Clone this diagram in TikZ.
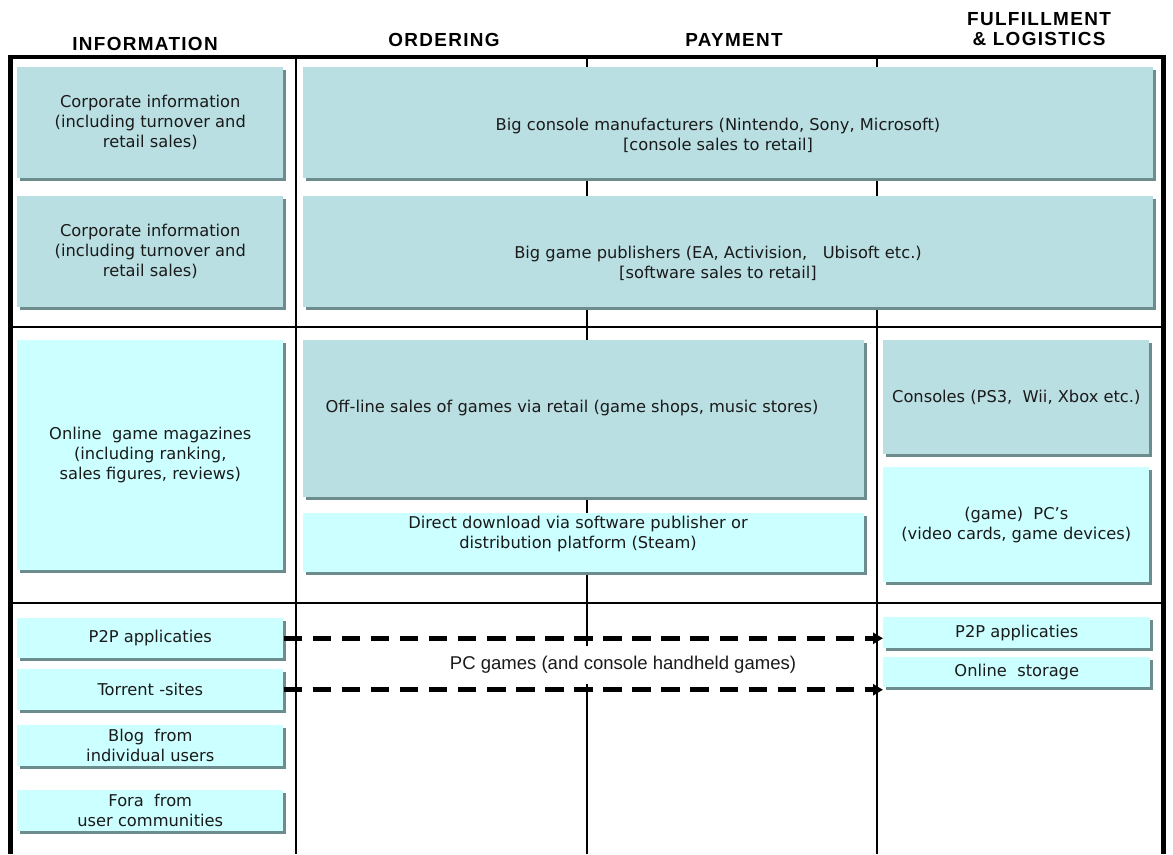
\documentclass[tikz,border=0pt]{standalone}
\usepackage{fontspec}
\setmainfont{DejaVu Sans}
\newfontfamily\hdrfont[LetterSpace=7]{Liberation Sans}
\newfontfamily\arialfont{Liberation Sans}
\usetikzlibrary{arrows.meta,shadows}
\newdimen\pxu \pxu=0.75pt
\definecolor{tealfill}{HTML}{BADFE2}
\definecolor{cyanfill}{HTML}{CCFFFF}
\definecolor{shadowcol}{HTML}{6D8C8D}
\definecolor{txtcol}{HTML}{1A1A1A}
\begin{document}
\begin{tikzpicture}[x=0.75pt, y=-0.75pt,
  txt/.style={align=center, font=\fontsize{12.2}{15}\selectfont, text=txtcol, inner sep=0pt},
  box/.style={txt, anchor=north west, general shadow={fill=shadowcol, shadow xshift=1.9pt, shadow yshift=-1.9pt}},
  tealbox/.style={box, fill=tealfill},
  cyanbox/.style={box, fill=cyanfill},
  hdr/.style={font=\hdrfont\bfseries\fontsize{14.2}{16}\selectfont, anchor=base, inner sep=0pt, text=black},
  frameline/.style={line width=3.4pt},
  divline/.style={line width=1.9pt},
  flow/.style={line width=3.75pt, dash pattern=on 13.9pt off 7.9pt, -{Triangle[length=7.5pt,width=8.25pt]}}
]
\useasboundingbox (0,0) rectangle (1173,854);

% headers
\node[hdr] (hinfo) at (145,50) {INFORMATION};
\node[hdr] (hord) at (444,46) {ORDERING};
\node[hdr] (hpay) at (734,46) {PAYMENT};
\node[hdr] (hful) at (1039,25) {FULFILLMENT};
\node[hdr] (hlog) at (1039,45) {\& LOGISTICS};

% grid lines
\draw[divline] (296,57) -- (296,854);
\draw[divline] (587,57) -- (587,854);
\draw[divline] (877,57) -- (877,854);
\draw[divline] (10,327) -- (1163,327);
\draw[divline] (10,603) -- (1163,603);
\draw[frameline] (8,57) -- (1166,57);
\draw[frameline] (10.5,55) -- (10.5,854);
\draw[frameline] (1163.5,55) -- (1163.5,854);

% row 1 and 2
\node[tealbox, minimum width=266\pxu, minimum height=111\pxu] (corp1) at (17,67)
  {Corporate information\\(including turnover and\\retail sales)};
\node[tealbox, minimum width=850\pxu, minimum height=111\pxu] (bigcon) at (303,67) {};
\node[txt] (bigcont) at (718,135)
  {Big console manufacturers (Nintendo, Sony, Microsoft)\\{[console sales to retail]}};
\node[tealbox, minimum width=266\pxu, minimum height=111\pxu] (corp2) at (17,196)
  {Corporate information\\(including turnover and\\retail sales)};
\node[tealbox, minimum width=850\pxu, minimum height=111\pxu] (bigpub) at (303,196) {};
\node[txt] (bigpubt) at (718,263)
  {Big game publishers (EA, Activision,\ \ \ Ubisoft etc.)\\{[software sales to retail]}};

% row 3
\node[cyanbox, minimum width=266\pxu, minimum height=230\pxu] (mag) at (17,340)
  {Online\ \ game magazines\\(including ranking,\\sales figures, reviews)};
\node[tealbox, minimum width=561\pxu, minimum height=157\pxu] (off) at (303,340) {};
\node[txt] (offt) at (572,408)
  {Off-line sales of games via retail (game shops, music stores)};
\node[cyanbox, minimum width=561\pxu, minimum height=59\pxu] (dd) at (303,513) {};
\node[txt] (ddt) at (578,534)
  {Direct download via software publisher or\\distribution platform (Steam)};
\node[tealbox, minimum width=266\pxu, minimum height=114\pxu] (con) at (883,340)
  {Consoles (PS3,\ \ Wii, Xbox etc.)};
\node[cyanbox, minimum width=266\pxu, minimum height=115\pxu] (pc) at (883,467)
  {(game)\ \ PC’s\\(video cards, game devices)};

% row 4
\node[cyanbox, minimum width=266\pxu, minimum height=40\pxu] (lp2p) at (17,618) {P2P applicaties};
\node[cyanbox, minimum width=266\pxu, minimum height=41\pxu] (tor) at (17,669) {Torrent -sites};
\node[cyanbox, minimum width=266\pxu, minimum height=41\pxu] (blog) at (17,725) {Blog\ \ from\\individual users};
\node[cyanbox, minimum width=266\pxu, minimum height=41\pxu] (fora) at (17,790) {Fora\ \ from\\user communities};
\node[cyanbox, minimum width=267\pxu, minimum height=31\pxu] (rp2p) at (883,617) {P2P applicaties};
\node[cyanbox, minimum width=267\pxu, minimum height=30\pxu] (stor) at (883,657) {Online\ \ storage};

% flows
\draw[flow] (lp2p.east) -- (lp2p.east -| rp2p.west);
\draw[flow] (tor.east) -- (tor.east -| stor.west);
\node[font=\arialfont\fontsize{13.9}{16}\selectfont, fill=white, inner xsep=1.5pt, inner ysep=0pt,
  minimum height=38\pxu, text=txtcol] (pcg) at (623,665)
  {PC games (and console handheld games)};
\end{tikzpicture}
\end{document}
